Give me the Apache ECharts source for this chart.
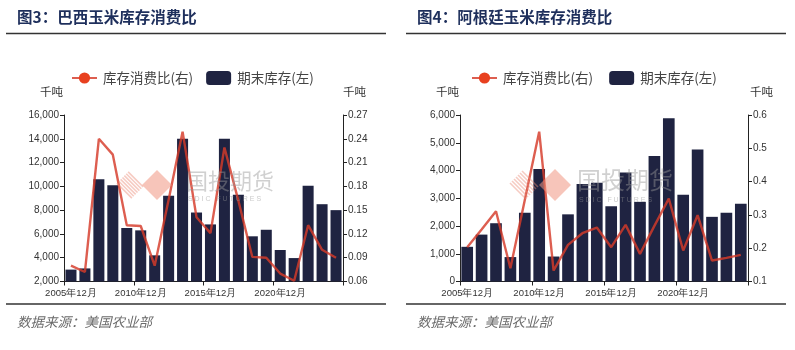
<!DOCTYPE html>
<html>
<head>
<meta charset="utf-8">
<script src="https://cdn.jsdelivr.net/npm/echarts@6/dist/echarts.min.js"></script>
<style>
  html, body { margin: 0; padding: 0; background: #ffffff; }
  #chart { width: 795px; height: 350px; }
</style>
</head>
<body>
<div id="chart"></div>
<script>
// Marketing years (ending stocks reported each December)
const years = ['2005年12月','2006年12月','2007年12月','2008年12月','2009年12月','2010年12月','2011年12月','2012年12月','2013年12月','2014年12月','2015年12月','2016年12月','2017年12月','2018年12月','2019年12月','2020年12月','2021年12月','2022年12月','2023年12月','2024年12月'];

// Brazil: ending stocks (thousand tonnes) and stocks-to-use ratio
const brazilStock = [3000, 3100, 10600, 10100, 6500, 6300, 4200, 9200, 14000, 7800, 6800, 14000, 9300, 5800, 6350, 4650, 3970, 10050, 8500, 8000];
const brazilRatio = [0.080, 0.072, 0.240, 0.220, 0.131, 0.130, 0.080, 0.163, 0.249, 0.141, 0.121, 0.229, 0.162, 0.091, 0.090, 0.070, 0.061, 0.131, 0.100, 0.090];

// Argentina: ending stocks (thousand tonnes) and stocks-to-use ratio
const argStock = [1250, 1690, 2100, 880, 2480, 4050, 900, 2420, 3510, 3560, 2710, 3930, 2870, 4520, 5880, 3130, 4760, 2330, 2480, 2800];
const argRatio = [0.203, 0.256, 0.311, 0.140, 0.345, 0.550, 0.133, 0.210, 0.245, 0.262, 0.203, 0.270, 0.183, 0.267, 0.349, 0.193, 0.299, 0.163, 0.171, 0.180];

const ratioName = '库存消费比(右)';
const stockName = '期末库存(左)';

const BAR = '#1f2341';
const LINE = 'rgba(214,58,42,0.82)';
const DOT = '#e8401f';
const AXIS = '#222222';
const LABEL_FONT = '"Liberation Sans", Arial, sans-serif';
const CJK = '"Noto Sans CJK SC", "Noto Sans", sans-serif';

function fmtThousands(v) {
  return String(v).replace(/\B(?=(\d{3})+(?!\d))/g, ',');
}

function valueAxis(gridIndex, position, min, max, interval, formatter) {
  return {
    type: 'value', gridIndex, position, min, max, interval,
    axisLine: { show: true, lineStyle: { color: AXIS, width: 1 } },
    axisTick: { show: true, length: 4, lineStyle: { color: AXIS } },
    splitLine: { show: false },
    axisLabel: { color: '#333', fontSize: 10, fontFamily: LABEL_FONT, margin: 5, formatter }
  };
}

function catAxis(gridIndex) {
  return {
    type: 'category', gridIndex, data: years, boundaryGap: true,
    axisLine: { show: true, lineStyle: { color: AXIS, width: 1 } },
    axisTick: { show: true, length: 4, interval: 4, lineStyle: { color: AXIS } },
    axisLabel: { interval: 4, color: '#333', fontSize: 9.5, fontFamily: LABEL_FONT, margin: 7 }
  };
}

// Company mark drawn faintly over each plot
function watermark(hx, sx, cy, r, tx, fs) {
  const els = [];
  for (let i = 1; i <= 7; i++) {
    const t = i / 8;
    const x1 = hx - r + t * r, y1 = cy - t * r;
    els.push({
      type: 'line', z: 100, silent: true,
      shape: { x1, y1, x2: x1 + r, y2: y1 + r },
      style: { stroke: 'rgba(236,140,120,0.45)', lineWidth: 1.6 }
    });
  }
  els.push({
    type: 'polygon', z: 100, silent: true,
    shape: { points: [[sx, cy - r], [sx + r, cy], [sx, cy + r], [sx - r, cy]] },
    style: { fill: 'rgba(240,150,130,0.55)' }
  });
  els.push({
    type: 'text', z: 100, silent: true, left: tx, top: cy - fs * 0.72,
    style: { text: '国投期货', font: fs + 'px ' + CJK, fill: 'rgba(150,150,150,0.45)' }
  });
  els.push({
    type: 'text', z: 100, silent: true, left: tx + 2, top: cy + fs * 0.5,
    style: { text: 'S D I C   F U T U R E S', font: '7px ' + LABEL_FONT, fill: 'rgba(150,150,150,0.5)' }
  });
  return els;
}

function frame(x0) {
  return [
    { type: 'text', left: x0 + 17, top: 9,
      style: { text: (x0 === 0 ? '图3：巴西玉米库存消费比' : '图4：阿根廷玉米库存消费比'),
               font: 'bold 15.5px ' + CJK, fill: '#1e2f5c' } },
    { type: 'line', shape: { x1: x0 + 6, y1: 33.5, x2: x0 + 386, y2: 33.5 },
      style: { stroke: '#333', lineWidth: 1.3 } },
    { type: 'line', shape: { x1: x0 + 6, y1: 304, x2: x0 + 386, y2: 304 },
      style: { stroke: '#333', lineWidth: 1.3 } },
    { type: 'text', left: x0 + 17, top: 315,
      style: { text: '数据来源：美国农业部', font: 'italic 13.5px ' + CJK, fill: '#6b6b6b' } }
  ];
}

const units = [
  { type: 'text', left: 40, top: 86, style: { text: '千吨', font: '11.5px ' + CJK, fill: '#333' } },
  { type: 'text', left: 343, top: 86, style: { text: '千吨', font: '11.5px ' + CJK, fill: '#333' } },
  { type: 'text', left: 436, top: 86, style: { text: '千吨', font: '11.5px ' + CJK, fill: '#333' } },
  { type: 'text', left: 750, top: 86, style: { text: '千吨', font: '11.5px ' + CJK, fill: '#333' } }
];

function legend(left, suffix) {
  return {
    left, top: 66, itemWidth: 25, itemHeight: 14, itemGap: 13,
    textStyle: { fontSize: 13.5, color: '#444', fontFamily: CJK, padding: [0, 0, 0, 1] },
    data: [
      { name: ratioName + suffix },
      { name: stockName + suffix, icon: 'roundRect' }
    ]
  };
}

const chart = echarts.init(document.getElementById('chart'), null, { renderer: 'canvas' });

const option = {
  animation: false,
  backgroundColor: '#ffffff',
  legend: [legend(66, ''), legend(466, ' ')],
  grid: [
    { left: 64, right: 452, top: 115, bottom: 68.5 },
    { left: 460, right: 47, top: 115, bottom: 68.5 }
  ],
  xAxis: [catAxis(0), catAxis(1)],
  yAxis: [
    valueAxis(0, 'left', 2000, 16000, 2000, fmtThousands),
    valueAxis(0, 'right', 0.06, 0.27, 0.03, v => v.toFixed(2)),
    valueAxis(1, 'left', 0, 6000, 1000, fmtThousands),
    valueAxis(1, 'right', 0.1, 0.6, 0.1, v => v.toFixed(1))
  ],
  series: [
    { name: stockName, type: 'bar', xAxisIndex: 0, yAxisIndex: 0, data: brazilStock,
      barCategoryGap: '21%', itemStyle: { color: BAR } },
    { name: ratioName, type: 'line', xAxisIndex: 0, yAxisIndex: 1, data: brazilRatio,
      symbol: 'circle', symbolSize: 10, showSymbol: false, z: 5,
      lineStyle: { color: LINE, width: 2.4 }, itemStyle: { color: DOT } },
    { name: stockName + ' ', type: 'bar', xAxisIndex: 1, yAxisIndex: 2, data: argStock,
      barCategoryGap: '19%', itemStyle: { color: BAR } },
    { name: ratioName + ' ', type: 'line', xAxisIndex: 1, yAxisIndex: 3, data: argRatio,
      symbol: 'circle', symbolSize: 10, showSymbol: false, z: 5,
      lineStyle: { color: LINE, width: 2.4 }, itemStyle: { color: DOT } }
  ],
  graphic: [].concat(
    frame(0), frame(400), units,
    watermark(130, 157, 185, 15, 186, 22),
    watermark(524, 555, 185, 16, 577, 24)
  )
};

chart.setOption(option);
</script>
</body>
</html>
